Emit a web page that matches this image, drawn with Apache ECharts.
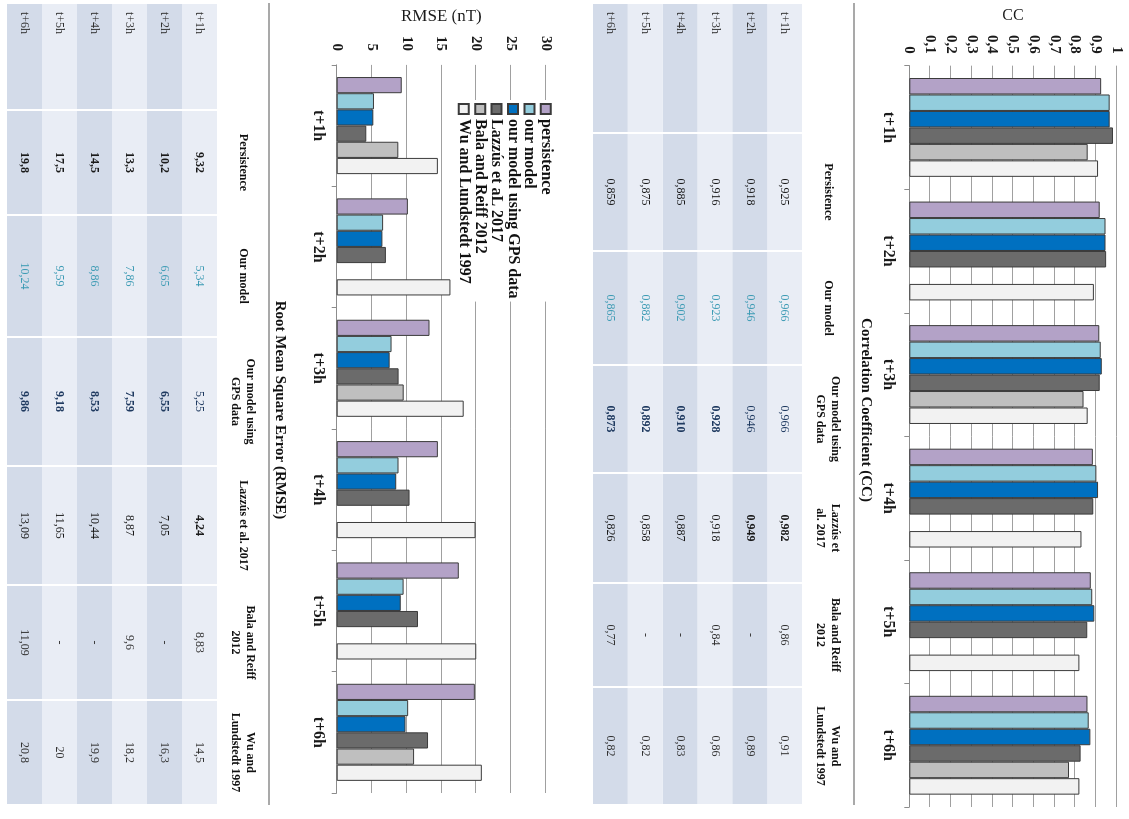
<!DOCTYPE html>
<html>
<head>
<meta charset="utf-8">
<script src="https://cdn.jsdelivr.net/npm/echarts@6/dist/echarts.min.js"></script>
<style>
  html, body { margin: 0; padding: 0; background: #fff; overflow: hidden; width: 1129px; height: 819px; }
  /* the figure is laid out as a portrait page and turned a quarter clockwise */
  #page { position: absolute; left: 0; top: 0; width: 819px; height: 1129px;
          transform-origin: 0 0; transform: translateX(1129px) rotate(90deg); }
</style>
</head>
<body>
<div id="page"></div>
<script>
// ---------- data ----------
const horizons = ['t+1h', 't+2h', 't+3h', 't+4h', 't+5h', 't+6h'];
const methods = ['persistence', 'our model', 'our model using GPS data',
                 'Lazzús et aL 2017', 'Bala and Reiff 2012', 'Wu and Lundstedt 1997'];
const ccHeaders = ['', 'Persistence', 'Our model', 'Our model using\nGPS data',
                   'Lazzús et\nal. 2017', 'Bala and Reiff\n2012', 'Wu and\nLundstedt 1997'];
const rmseHeaders = ['', 'Persistence', 'Our model', 'Our model using\nGPS data',
                     'Lazzús et al. 2017', 'Bala and Reiff\n2012', 'Wu and\nLundstedt 1997'];

// correlation coefficient, t+1h … t+6h (null = not reported)
const ccPersistence = [0.925, 0.918, 0.916, 0.885, 0.875, 0.859];
const ccOurModel    = [0.966, 0.946, 0.923, 0.902, 0.882, 0.865];
const ccGps         = [0.966, 0.946, 0.928, 0.910, 0.892, 0.873];
const ccLazzus      = [0.982, 0.949, 0.918, 0.887, 0.858, 0.826];
const ccBala        = [0.86, null, 0.84, null, null, 0.77];
const ccWu          = [0.91, 0.89, 0.86, 0.83, 0.82, 0.82];

// root mean square error in nT, t+1h … t+6h
const rmsePersistence = [9.32, 10.2, 13.3, 14.5, 17.5, 19.8];
const rmseOurModel    = [5.34, 6.65, 7.86, 8.86, 9.59, 10.24];
const rmseGps         = [5.25, 6.55, 7.59, 8.53, 9.18, 9.86];
const rmseLazzus      = [4.24, 7.05, 8.87, 10.44, 11.65, 13.09];
const rmseBala        = [8.83, null, 9.6, null, null, 11.09];
const rmseWu          = [14.5, 16.3, 18.2, 19.9, 20, 20.8];

const ccTickStep = 0.1;
const rmseTickStep = 5;

// ---------- layout & styling ----------
const serif = 'Liberation Serif';
const barColors = ['#b3a2c7', '#93cddd', '#0070c0', '#6b6b6b', '#bfbfbf', '#f2f2f2'];
const textColors = ['#1a1a1a', '#3f9cb5', '#1f3a60', '#1a1a1a', '#333333', '#333333'];
const rowFill = ['#e9edf5', '#d3dbe9'];
// column edges of each table, in table-width units (0 … 802)
const ccColEdges = [0, 130, 248, 362, 470, 580, 684, 802];
const rmseColEdges = [0, 107, 212, 334, 463, 582, 697, 802];

const ccColumns = [ccPersistence, ccOurModel, ccGps, ccLazzus, ccBala, ccWu];
const rmseColumns = [rmsePersistence, rmseOurModel, rmseGps, rmseLazzus, rmseBala, rmseWu];

const comma = v => String(v).replace('.', ',');

function fmt(v, digits) {
  if (v == null) return '-';
  return (digits != null ? v.toFixed(digits) : String(v)).replace('.', ',');
}

// one text cell per (column, row); column 0 holds the horizon name
function buildCells(columns, digits, better, alwaysBold) {
  const cells = [];
  horizons.forEach((h, r) => {
    const vals = columns.map(col => col[r]).filter(v => v != null);
    const best = better === 'max' ? Math.max(...vals) : Math.min(...vals);
    cells.push({ value: [0, r], text: h, color: '#333333', bold: false });
    columns.forEach((col, c) => {
      const v = col[r];
      cells.push({
        value: [c + 1, r],
        text: fmt(v, digits[c]),
        color: textColors[c],
        bold: v != null && (v === best || alwaysBold[c])
      });
    });
  });
  return cells;
}

const ccCells = buildCells(ccColumns, [3, 3, 3, 3, null, null], 'max',
                           [false, false, false, false, false, false]);
const rmseCells = buildCells(rmseColumns, [null, null, null, null, null, null], 'min',
                             [true, false, false, false, false, false]);

function cellRenderer(cells, edges, headers) {
  return function (params, api) {
    const cell = cells[params.dataIndex];
    const c = api.value(0), r = api.value(1);
    const a = api.coord([edges[c], r]);
    const b = api.coord([edges[c + 1], r]);
    const h = api.size([0, 1])[1];
    const x0 = a[0], x1 = b[0], yMid = a[1];
    const children = [
      { type: 'rect', shape: { x: x0 + 1, y: yMid - h / 2, width: x1 - x0 - 2, height: h },
        style: { fill: rowFill[r % 2] } },
      { type: 'text',
        style: { text: cell.text, x: c === 0 ? x0 + 9 : (x0 + x1) / 2, y: yMid,
                 align: c === 0 ? 'left' : 'center', verticalAlign: 'middle',
                 fontFamily: serif, fontSize: 12, fontWeight: cell.bold ? 'bold' : 'normal',
                 fill: cell.color } }
    ];
    if (r === 0 && headers[c]) {
      children.push({ type: 'text',
        style: { text: headers[c], x: (x0 + x1) / 2, y: params.coordSys.y - 26,
                 align: 'center', verticalAlign: 'middle', lineHeight: 15,
                 fontFamily: serif, fontSize: 12, fontWeight: 'bold', fill: '#111111' } });
    }
    return { type: 'group', children: children };
  };
}

function barSeries(values, i, axis) {
  return {
    type: 'bar', name: methods[i], xAxisIndex: axis, yAxisIndex: axis, data: values,
    barGap: '0%', barCategoryGap: '20%', silent: true,
    itemStyle: { color: barColors[i], borderColor: '#3b3b3b', borderWidth: 1 }
  };
}

function categoryAxis(grid, margin) {
  return {
    type: 'category', gridIndex: grid, data: horizons,
    axisLine: { show: true, lineStyle: { color: '#8c8c8c', width: 1 } },
    axisTick: { show: true, length: 5, lineStyle: { color: '#8c8c8c' } },
    axisLabel: { margin: margin, fontFamily: serif, fontSize: 16, fontWeight: 'bold', color: '#1a1a1a' }
  };
}

function valueAxis(grid, max, step, name, nameGap, nameSize, labelMargin) {
  return {
    type: 'value', gridIndex: grid, min: 0, max: max, interval: step,
    name: name, nameLocation: 'middle', nameRotate: 90, nameGap: nameGap,
    nameTextStyle: { fontFamily: serif, fontSize: nameSize, color: '#1a1a1a' },
    axisLine: { show: false }, axisTick: { show: false },
    axisLabel: { margin: labelMargin, fontFamily: serif, fontSize: 15, fontWeight: 'bold',
                 color: '#1a1a1a', formatter: comma },
    splitLine: { show: true, lineStyle: { color: '#a0a0a0', width: 1 } }
  };
}

function tableColumnAxis(grid) {
  return { type: 'value', gridIndex: grid, min: 0, max: 802, show: false, splitLine: { show: false } };
}

function rowAxis(grid) {
  return { type: 'category', gridIndex: grid, data: horizons, inverse: true, show: false };
}

const option = {
  backgroundColor: '#ffffff',
  animation: false,
  grid: [
    { left: 62, top: 12.3, width: 745, height: 207.4 },   // CC bars
    { left: 3, top: 327, width: 802, height: 209 },       // CC table
    { left: 57, top: 583, width: 736, height: 209.3 },    // RMSE bars
    { left: 3, top: 912, width: 802, height: 210 }        // RMSE table
  ],
  xAxis: [
    categoryAxis(0, 13),
    tableColumnAxis(1),
    categoryAxis(2, 11),
    tableColumnAxis(3)
  ],
  yAxis: [
    valueAxis(0, 1, ccTickStep, 'CC', 40, 16, 12),
    rowAxis(1),
    valueAxis(2, 30, rmseTickStep, 'RMSE (nT)', 34, 17, 14),
    rowAxis(3)
  ],
  legend: {
    orient: 'vertical', left: 100, top: 574, padding: [1, 3],
    backgroundColor: '#ffffff', icon: 'rect', itemWidth: 10, itemHeight: 10, itemGap: 0,
    selectedMode: false,
    textStyle: { fontFamily: serif, fontSize: 16, fontWeight: 'bold', color: '#111111', lineHeight: 16.4 },
    data: methods
  },
  series: [
    ...ccColumns.map((vals, i) => barSeries(vals, i, 0)),
    ...rmseColumns.map((vals, i) => barSeries(vals, i, 2)),
    { type: 'custom', xAxisIndex: 1, yAxisIndex: 1, silent: true, clip: false,
      data: ccCells.map(c => c.value), renderItem: cellRenderer(ccCells, ccColEdges, ccHeaders) },
    { type: 'custom', xAxisIndex: 3, yAxisIndex: 3, silent: true, clip: false,
      data: rmseCells.map(c => c.value), renderItem: cellRenderer(rmseCells, rmseColEdges, rmseHeaders) }
  ],
  graphic: [
    { type: 'line', shape: { x1: 3, y1: 275, x2: 805, y2: 275 }, style: { stroke: '#555555', lineWidth: 1.2 } },
    { type: 'line', shape: { x1: 3, y1: 860, x2: 805, y2: 860 }, style: { stroke: '#555555', lineWidth: 1.2 } },
    { type: 'text', x: 410, y: 263,
      style: { text: 'Correlation Coefficient (CC)', align: 'center', verticalAlign: 'middle',
               fontFamily: serif, fontSize: 15, fontWeight: 'bold', fill: '#111111' } },
    { type: 'text', x: 410, y: 849,
      style: { text: 'Root Mean Square Error (RMSE)', align: 'center', verticalAlign: 'middle',
               fontFamily: serif, fontSize: 15, fontWeight: 'bold', fill: '#111111' } }
  ]
};

const chart = echarts.init(document.getElementById('page'), null, { renderer: 'canvas', width: 819, height: 1129 });
chart.setOption(option);
</script>
</body>
</html>
